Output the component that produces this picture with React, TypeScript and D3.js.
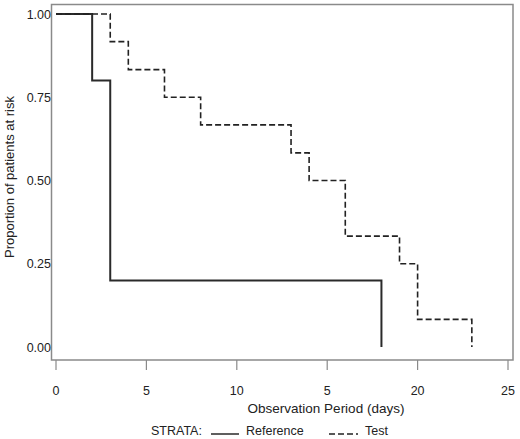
import { scaleLinear, line, curveStepAfter } from "d3";

const refTimes = [0, 2, 3, 18];
const refSurvival = [1, 0.8, 0.2, 0];
const testTimes = [0, 3, 4, 6, 8, 13, 14, 16, 19, 20, 23];
const testSurvival = [1, 0.917, 0.833, 0.75, 0.667, 0.583, 0.5, 0.333, 0.25, 0.083, 0];
const xTicks = [0, 5, 10, 15, 20, 25];
const xTickLabels = ["0", "5", "10", "5", "20", "25"];
const yTicks = [0, 0.25, 0.5, 0.75, 1];

const font = "'Liberation Sans', Arial, sans-serif";

export default function App() {
    const width = 520;
    const height = 439;

    const x = scaleLinear().domain([0, 25]).range([56, 508]);
    const y = scaleLinear().domain([0, 1]).range([347, 14]);

    const path = line<[number, number]>()
        .x((d) => x(d[0]))
        .y((d) => y(d[1]))
        .curve(curveStepAfter);

    const refData = refTimes.map((t, i) => [t, refSurvival[i]] as [number, number]);
    const testData = testTimes.map((t, i) => [t, testSurvival[i]] as [number, number]);

    return (
        <svg width={width} height={height} style={{ position: "absolute", left: 0, top: 0 }} fontFamily={font}>
            <rect x={51.5} y={4.5} width={461.5} height={355.5} fill="none" stroke="#8a8a8a" strokeWidth={1.5} />

            {/* x axis ticks */}
            {xTicks.map((t, i) => (
                <g key={t}>
                    <line x1={x(t)} x2={x(t)} y1={360} y2={370} stroke="#8a8a8a" strokeWidth={1.2} />
                    <text x={x(t)} y={395} textAnchor="middle" fontSize={12.5} fill="#222">
                        {xTickLabels[i]}
                    </text>
                </g>
            ))}

            {/* y axis labels */}
            {yTicks.map((t) => (
                <text key={t} x={51} y={y(t) + 4.5} textAnchor="end" fontSize={12.5} fill="#222">
                    {t.toFixed(2)}
                </text>
            ))}

            <text x={326} y={413} textAnchor="middle" fontSize={13.5} fill="#222">
                Observation Period (days)
            </text>
            <text transform="translate(14, 177) rotate(-90)" textAnchor="middle" fontSize={13} fill="#222">
                Proportion of patients at risk
            </text>

            <path d={path(refData) ?? ""} fill="none" stroke="#2a2a2a" strokeWidth={2} />
            <path d={path(testData) ?? ""} fill="none" stroke="#222" strokeWidth={1.6} strokeDasharray="6,3" />

            {/* legend */}
            <text x={151} y={435} fontSize={12.5} fill="#222">
                STRATA:
            </text>
            <line x1={211} x2={239} y1={434} y2={434} stroke="#2a2a2a" strokeWidth={1.5} />
            <text x={246} y={435} fontSize={12.5} fill="#222">
                Reference
            </text>
            <line x1={329} x2={358} y1={434} y2={434} stroke="#222" strokeWidth={1.5} strokeDasharray="6,3" />
            <text x={365} y={435} fontSize={12.5} fill="#222">
                Test
            </text>
        </svg>
    );
}
